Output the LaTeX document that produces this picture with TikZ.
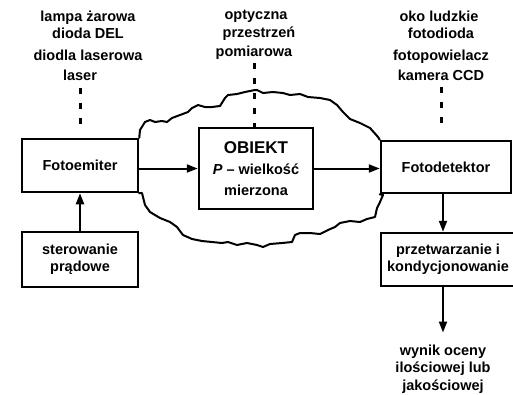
\documentclass[tikz,border=0pt]{standalone}
\usepackage{fontspec}
\setmainfont{Liberation Sans}
\usetikzlibrary{arrows.meta}
\begin{document}
\begin{tikzpicture}[x=1bp,y=-1bp,
  txt/.style={font=\bfseries\fontsize{14.5bp}{17bp}\selectfont, inner sep=2bp},
  box/.style={draw, line width=2.5bp, align=center, txt},
  arr/.style={line width=2bp, -{Triangle[length=11bp,width=8bp]}},
  dots/.style={line width=3bp, dash pattern=on 6bp off 9bp},
  cloudline/.style={line width=2bp, line join=round, line cap=round}]
\useasboundingbox (0,0) rectangle (513,394);

% top labels
\node[txt, anchor=base] (l1) at (88,21) {lampa żarowa};
\node[txt, anchor=base] (l2) at (88,38) {dioda DEL};
\node[txt, anchor=base] (l3) at (88,60) {diodla laserowa};
\node[txt, anchor=base] (l4) at (80,80) {laser};
\node[txt, anchor=base] (m1) at (256,19) {optyczna};
\node[txt, anchor=base] (m2) at (259,37) {przestrzeń};
\node[txt, anchor=base] (m3) at (254,56) {pomiarowa};
\node[txt, anchor=base] (r1) at (439,21) {oko ludzkie};
\node[txt, anchor=base] (r2) at (441,38) {fotodioda};
\node[txt, anchor=base] (r3) at (441,60) {fotopowielacz};
\node[txt, anchor=base] (r4) at (441,80) {kamera CCD};

% boxes
\node[box, minimum width=116bp, minimum height=53bp] (emit) at (80,165.5) {Fotoemiter};
\node[box, minimum width=116bp, minimum height=55bp] (ster) at (80,259.5) {sterowanie\\prądowe};
\node[box, minimum width=114bp, minimum height=81bp,
      font=\bfseries\fontsize{14.5bp}{21bp}\selectfont] (obj) at (256,168.5)
      {{\fontsize{17bp}{21bp}\selectfont OBIEKT}\\\textit{P} – wielkość\\mierzona};
\node[box, minimum width=130bp, minimum height=52bp] (det) at (446,167) {Fotodetektor};
\node[box, minimum width=134bp, minimum height=53bp] (proc) at (448,259.5) {przetwarzanie i\\kondycjonowanie};
\node[txt, align=center, font=\bfseries\fontsize{14.5bp}{17.5bp}\selectfont] (out) at (443,369)
      {wynik oceny\\ilościowej lub\\jakościowej};

% dotted links
\draw[dots, shorten <=6bp, shorten >=10bp] (l4.south) -- (l4.south |- emit.north);
\draw[dots, shorten <=2bp] (m3.south) -- (m3.south |- obj.north);
\draw[dots, shorten <=5bp, shorten >=12bp] (r4.south) -- (r4.south |- det.north);

% arrows
\draw[arr] (ster) -- (emit);
\draw[arr] (obj.west -| emit.east) -- (obj.west);
\draw[arr] (obj.east) -- (obj.east -| det.west);
\draw[arr] (det.south -| out) -- (proc.north -| out);
\draw[arr, shorten >=10bp] (proc.south -| out) -- (out.north);

% cloud (measuring space)
\draw[cloudline] (emit.north east) -- (140,130) -- (145,122) -- (150,120) -- (155,122)
  -- (162,121) -- (167,122) -- (172,118) -- (180,115) -- (188,112) -- (192,108)
  -- (198,105) -- (205,107) -- (212,107) -- (220,106) -- (225,98) -- (228,95)
  -- (237,94) -- (245,92) -- (255,90) -- (257,90) -- (263,93) -- (273,92)
  -- (283,93) -- (290,95) -- (300,94) -- (308,97) -- (320,98) -- (330,100)
  -- (337,105) -- (343,112) -- (350,119) -- (360,123) -- (370,128) -- (378,137)
  -- (det.north west);
\draw[cloudline] (emit.south east) -- (142,193) -- (145,205) -- (150,212) -- (160,218)
  -- (170,222) -- (177,227) -- (183,235) -- (192,239) -- (202,241) -- (212,242)
  -- (222,243) -- (228,242) -- (237,245) -- (247,243) -- (257,245) -- (263,247)
  -- (270,244) -- (282,243) -- (292,242) -- (295,235) -- (300,233) -- (310,233)
  -- (320,234) -- (328,230) -- (335,227) -- (340,223) -- (350,221) -- (360,222)
  -- (367,219) -- (375,217) -- (377,208) -- (380,202) -- (383,195)
  -- (det.south west);
\end{tikzpicture}
\end{document}
